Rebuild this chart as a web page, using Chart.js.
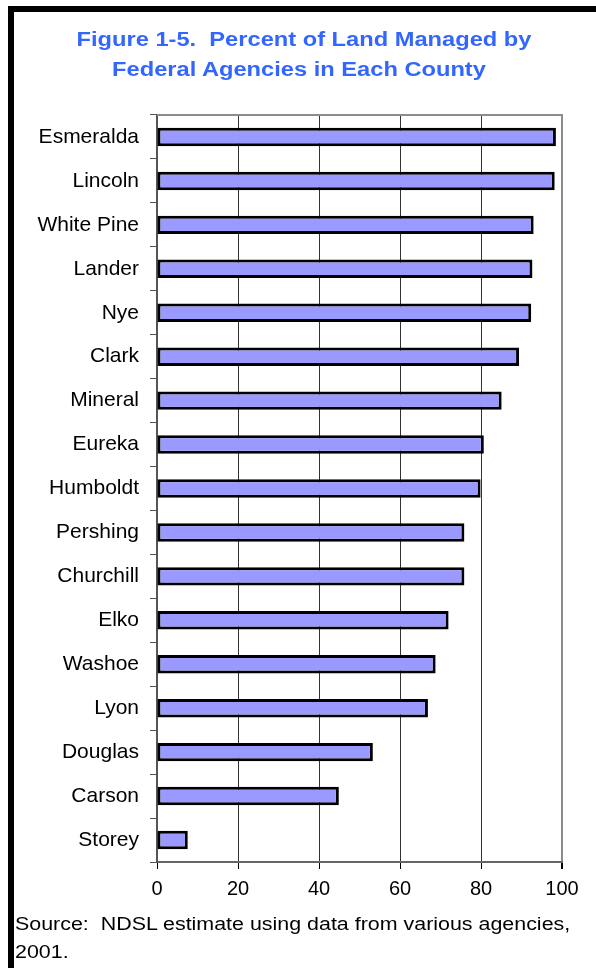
<!DOCTYPE html>
<html><head><meta charset="utf-8">
<script src="https://cdn.jsdelivr.net/npm/chart.js@4.4.1/dist/chart.umd.min.js"></script>
<style>
html,body{margin:0;padding:0;background:#fff;width:596px;height:968px;overflow:hidden;}
#frame{position:absolute;left:8px;top:6px;width:620px;height:1000px;border-top:6px solid #000;border-left:6px solid #000;box-sizing:border-box;}
#chart{position:absolute;left:0;top:0;}
.tl{position:absolute;left:0;width:596px;text-align:center;font:bold 20px "Liberation Sans",Arial,sans-serif;color:#3366ff;white-space:pre;line-height:22px;transform-origin:50% 50%;}
#src{position:absolute;left:15px;top:911px;font:17.5px "Liberation Sans",Arial,sans-serif;color:#000;white-space:pre;line-height:27.5px;transform:scaleX(1.224);transform-origin:0 0;}
</style></head>
<body>
<div id="frame"></div>
<canvas id="chart" width="596" height="968"></canvas>
<div class="tl" style="top:28px;transform:translateX(6px) scaleX(1.183);">Figure 1-5.  Percent of Land Managed by</div>
<div class="tl" style="top:57.5px;transform:translateX(1px) scaleX(1.183);">Federal Agencies in Each County</div>
<div id="src">Source:  NDSL estimate using data from various agencies,
2001.</div>
<script>
const categories = ["Esmeralda","Lincoln","White Pine","Lander","Nye","Clark","Mineral","Eureka","Humboldt","Pershing","Churchill","Elko","Washoe","Lyon","Douglas","Carson","Storey"];
const percentFederal = [98.5,98.2,93.0,92.7,92.4,89.4,85.1,80.7,79.9,75.9,75.9,72.0,68.8,66.9,53.3,44.9,7.6];
const xTicks = [0,20,40,60,80,100];

Chart.defaults.font.family = '"Liberation Sans", Arial, sans-serif';
Chart.defaults.color = '#000';

const topBorder = {
  id: 'topBorder',
  beforeDatasetsDraw(chart) {
    const {ctx, chartArea: a} = chart;
    ctx.save();
    ctx.strokeStyle = '#8c8c8c';
    ctx.lineWidth = 2;
    ctx.beginPath();
    ctx.moveTo(a.left, a.top);
    ctx.lineTo(a.right + 1, a.top);
    ctx.stroke();
    ctx.restore();
  }
};

new Chart(document.getElementById('chart'), {
  type: 'bar',
  data: {
    labels: categories,
    datasets: [{
      data: percentFederal,
      backgroundColor: '#9999ff',
      borderColor: '#000',
      borderWidth: 3,
      borderSkipped: false,
      barPercentage: 0.42,
      categoryPercentage: 1.0
    }]
  },
  options: {
    indexAxis: 'y',
    responsive: false,
    devicePixelRatio: 1,
    animation: false,
    layout: { padding: { top: 115, right: 34, bottom: 66, left: 0 } },
    plugins: { legend: { display: false }, title: { display: false }, tooltip: { enabled: false } },
    scales: {
      x: {
        type: 'linear',
        min: 0, max: 100,
        afterBuildTicks(scale) { scale.ticks = xTicks.map(v => ({ value: v })); },
        afterFit(scale) { scale.height = 40; },
        ticks: { font: { size: 20 }, color: '#000', padding: 8, maxRotation: 0 },
        grid: {
          color: c => (c.tick && c.tick.value === 100) ? '#8c8c8c' : '#333',
          lineWidth: c => (c.tick && c.tick.value === 100) ? 2 : 1,
          tickColor: '#000',
          tickLength: 7,
          drawTicks: true
        },
        border: { display: true, color: '#666', width: 2 }
      },
      y: {
        afterFit(scale) { scale.width = 157; },
        ticks: { font: { size: 21 }, color: '#000', padding: 11 },
        grid: { display: true, drawOnChartArea: false, offset: true, color: '#555', tickLength: 7 },
        border: { display: true, color: '#555', width: 2 }
      }
    }
  },
  plugins: [topBorder]
});
</script>
</body></html>
